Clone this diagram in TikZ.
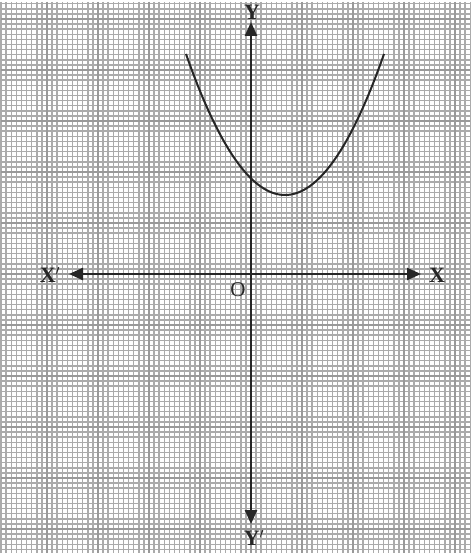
\documentclass[tikz,border=0pt]{standalone}
\usepackage{fontspec}
\setmainfont{Liberation Serif}
\usetikzlibrary{arrows.meta}
\tikzset{
  minorline/.style={draw=black!33, line width=1.5pt},
  majorline/.style={draw=black!40, line width=2.8pt},
  axisline/.style={draw=black!85, line width=2.4pt, -{Triangle[length=14pt,width=12pt]}},
  curveline/.style={draw=black!85, line width=2pt},
  axlabel/.style={font=\fontsize{22}{22}\selectfont\bfseries, text=black!85, inner sep=0pt}
}
\begin{document}
\begin{tikzpicture}[x=1pt,y=-1pt]
\useasboundingbox (0,0) rectangle (471,559);
\fill[white] (0,0) rectangle (471,559);
% minor grid
\foreach \i in {-49,...,43} {
  \draw[minorline] ({251+5.1*\i},2) -- ({251+5.1*\i},553);
}
\foreach \j in {-53,...,54} {
  \draw[minorline] (1,{274+5.1*\j}) -- (470,{274+5.1*\j});
}
% major grid
\foreach \i in {-4,...,4} {
  \draw[majorline] ({251+51*\i},2) -- ({251+51*\i},553);
}
\foreach \j in {-5,...,5} {
  \draw[majorline] (1,{274+51*\j}) -- (470,{274+51*\j});
}
% axes
\coordinate (o) at (251,274);
\coordinate (xp) at (421,274);
\coordinate (xm) at (69,274);
\coordinate (yp) at (251,22);
\coordinate (ym) at (251,524);
\draw[axisline] (o) -- (xp);
\draw[axisline] (o) -- (xm);
\draw[axisline] (o) -- (yp);
\draw[axisline] (o) -- (ym);
\node[axlabel] (lx) at (437,275) {X};
\node[axlabel] (lxm) at (50,275) {X$'$};
\node[axlabel] (ly) at (252,12) {Y};
\node[axlabel] (lym) at (254,538) {Y$'$};
\node[font=\fontsize{21}{21}\selectfont, text=black!85, inner sep=0pt] (lo) at (238,290) {O};
% parabola
\draw[curveline] plot[domain=186:384, samples=80, smooth] (\x,{195-0.01439*(\x-285)*(\x-285)});
\end{tikzpicture}
\end{document}
